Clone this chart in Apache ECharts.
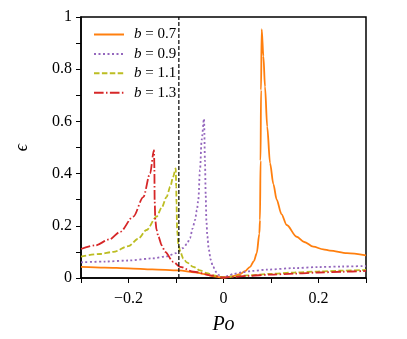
<!DOCTYPE html>
<html>
<head>
<meta charset="utf-8">
<script src="https://cdn.jsdelivr.net/npm/echarts@6/dist/echarts.min.js"></script>
<style>
  html, body { margin: 0; padding: 0; background: #fff; }
  #chart { width: 407px; height: 339px; }
</style>
</head>
<body>
<div id="chart"></div>
<script>
  // b values of the four curves
  const bValues = ['0.7', '0.9', '1.1', '1.3'];
  const colors = ['#ff7f0e', '#9467bd', '#bcbd22', '#d62728'];

  // [Po, epsilon]
  const curveB07 = [
    [-0.3, 0.043], [-0.25, 0.040], [-0.2, 0.037], [-0.15, 0.033], [-0.094, 0.029],
    [-0.06, 0.022], [-0.04, 0.015], [-0.02, 0.006], [0, 0.001], [0.01, 0.003],
    [0.02, 0.007], [0.035, 0.015], [0.045, 0.026], [0.056, 0.043], [0.064, 0.065],
    [0.070, 0.095], [0.0755, 0.17], [0.0768, 0.222], [0.078, 0.45], [0.079, 0.72],
    [0.0804, 0.953], [0.084, 0.85], [0.0874, 0.733], [0.092, 0.58], [0.098, 0.44],
    [0.105, 0.36], [0.112, 0.30], [0.122, 0.245], [0.133, 0.203], [0.154, 0.158],
    [0.17, 0.138], [0.189, 0.12], [0.21, 0.11], [0.224, 0.105], [0.26, 0.095], [0.3, 0.087]
  ];
  const curveB09 = [
    [-0.3, 0.06], [-0.25, 0.063], [-0.2, 0.067], [-0.15, 0.075], [-0.12, 0.083],
    [-0.1, 0.095], [-0.085, 0.115], [-0.077, 0.13], [-0.0705, 0.153], [-0.065, 0.19],
    [-0.06, 0.222], [-0.056, 0.26], [-0.053, 0.30], [-0.0495, 0.414], [-0.046, 0.529],
    [-0.041, 0.61], [-0.039, 0.45], [-0.0375, 0.32], [-0.036, 0.22], [-0.034, 0.16],
    [-0.031, 0.11], [-0.027, 0.07], [-0.022, 0.043], [-0.015, 0.022], [-0.008, 0.009],
    [0, 0.002], [0.01, 0.008], [0.02, 0.015], [0.04, 0.022], [0.06, 0.027],
    [0.09, 0.032], [0.15, 0.038], [0.2, 0.042], [0.25, 0.044], [0.3, 0.046]
  ];
  const curveB11 = [
    [-0.3, 0.082], [-0.26, 0.092], [-0.232, 0.10], [-0.2, 0.122], [-0.18, 0.15],
    [-0.162, 0.184], [-0.141, 0.235], [-0.13, 0.27], [-0.12, 0.31], [-0.112, 0.35],
    [-0.106, 0.388], [-0.1006, 0.42], [-0.0995, 0.35], [-0.099, 0.287], [-0.0975, 0.18],
    [-0.095, 0.13], [-0.091, 0.10], [-0.0846, 0.075], [-0.0775, 0.06], [-0.0636, 0.043],
    [-0.0495, 0.029], [-0.0354, 0.019], [-0.02, 0.01], [-0.0074, 0.005], [0, 0.003],
    [0.02, 0.006], [0.05, 0.01], [0.1, 0.016], [0.15, 0.021], [0.2, 0.025],
    [0.25, 0.028], [0.3, 0.031]
  ];
  const curveB13 = [
    [-0.3, 0.111], [-0.27, 0.125], [-0.24, 0.148], [-0.218, 0.176], [-0.19, 0.235],
    [-0.1688, 0.31], [-0.1547, 0.40], [-0.1463, 0.49], [-0.1455, 0.42], [-0.145, 0.3],
    [-0.1435, 0.22], [-0.141, 0.185], [-0.137, 0.158], [-0.13, 0.125], [-0.123, 0.10],
    [-0.1057, 0.062], [-0.0916, 0.043], [-0.0636, 0.024], [-0.0215, 0.009], [0, 0.002],
    [0.02, 0.004], [0.05, 0.008], [0.1, 0.013], [0.15, 0.017], [0.2, 0.021],
    [0.25, 0.024], [0.3, 0.027]
  ];
  const curves = [curveB07, curveB09, curveB11, curveB13];
  const dashes = ['solid', [2, 2.5], [5.5, 2.4], [9.6, 2.4, 1.5, 2.4]];

  // vertical dashed marker
  const markerPo = -0.094;
  const xTickLabels = [-0.2, 0, 0.2];
  const yTickLabels = [0, 0.2, 0.4, 0.6, 0.8, 1];

  const serif = '"Liberation Serif", "DejaVu Serif", serif';
  const fmtNum = (v) => {
    let s = String(+v.toFixed(1));
    return s.replace('-', '\u2212');
  };

  const chart = echarts.init(document.getElementById('chart'));

  const series = curves.map((c, i) => ({
    name: 'b = ' + bValues[i],
    type: 'line',
    data: c,
    symbol: 'none',
    smooth: 0.3,
    smoothMonotone: 'x',
    lineStyle: { color: colors[i], width: 1.8, type: dashes[i], cap: 'butt' },
    itemStyle: { color: colors[i] },
    z: 2 + i
  }));
  series.push({
    name: 'marker',
    type: 'line',
    data: [[markerPo, 0], [markerPo, 1]],
    symbol: 'none',
    lineStyle: { color: '#000', width: 1.2, type: [4, 2] },
    z: 10
  });

  const option = {
    animation: false,
    backgroundColor: '#fff',
    grid: {
      left: 81, right: 41, top: 17, bottom: 61,
      outerBoundsMode: 'none',
      show: true, borderColor: '#000', borderWidth: 1.5
    },
    legend: {
      data: bValues.map(b => 'b = ' + b),
      orient: 'vertical',
      left: 93, top: 27, padding: 0,
      itemWidth: 30, itemHeight: 14, itemGap: 4.4,
      itemStyle: { color: 'transparent', borderColor: 'transparent', borderWidth: 0, opacity: 0 },
      formatter: (name) => '{i|b} = ' + name.split(' = ')[1],
      textStyle: {
        fontFamily: serif, fontSize: 15, lineHeight: 14, color: '#000',
        padding: [0, 0, 0, 5],
        rich: { i: { fontFamily: serif, fontStyle: 'italic', fontSize: 15, lineHeight: 14, color: '#000' } }
      }
    },
    xAxis: {
      type: 'value', min: -0.3, max: 0.3, interval: 0.1,
      name: 'Po', nameLocation: 'middle', nameGap: 37,
      nameTextStyle: { fontFamily: serif, fontStyle: 'italic', fontSize: 20, color: '#000' },
      axisLine: { onZero: false, lineStyle: { color: '#000', width: 1.5 } },
      axisTick: { length: 5, lineStyle: { color: '#000', width: 1 } },
      splitLine: { show: false },
      axisLabel: {
        margin: 13, fontFamily: serif, fontSize: 16, color: '#000',
        formatter: (v) => xTickLabels.some(t => Math.abs(t - v) < 1e-9) ? fmtNum(v) : ''
      }
    },
    yAxis: {
      type: 'value', min: 0, max: 1, interval: 0.1,
      name: '\u03f5', nameLocation: 'middle', nameGap: 50,
      nameTextStyle: { fontFamily: serif, fontStyle: 'italic', fontSize: 18, color: '#000' },
      axisLine: { onZero: false, lineStyle: { color: '#000', width: 1.5 } },
      axisTick: { length: 5, lineStyle: { color: '#000', width: 1 } },
      splitLine: { show: false },
      axisLabel: {
        margin: 9, fontFamily: serif, fontSize: 16, color: '#000',
        formatter: (v) => yTickLabels.some(t => Math.abs(t - v) < 1e-9) ? fmtNum(v) : ''
      }
    },
    series: series
  };

  chart.setOption(option);
</script>
</body>
</html>
